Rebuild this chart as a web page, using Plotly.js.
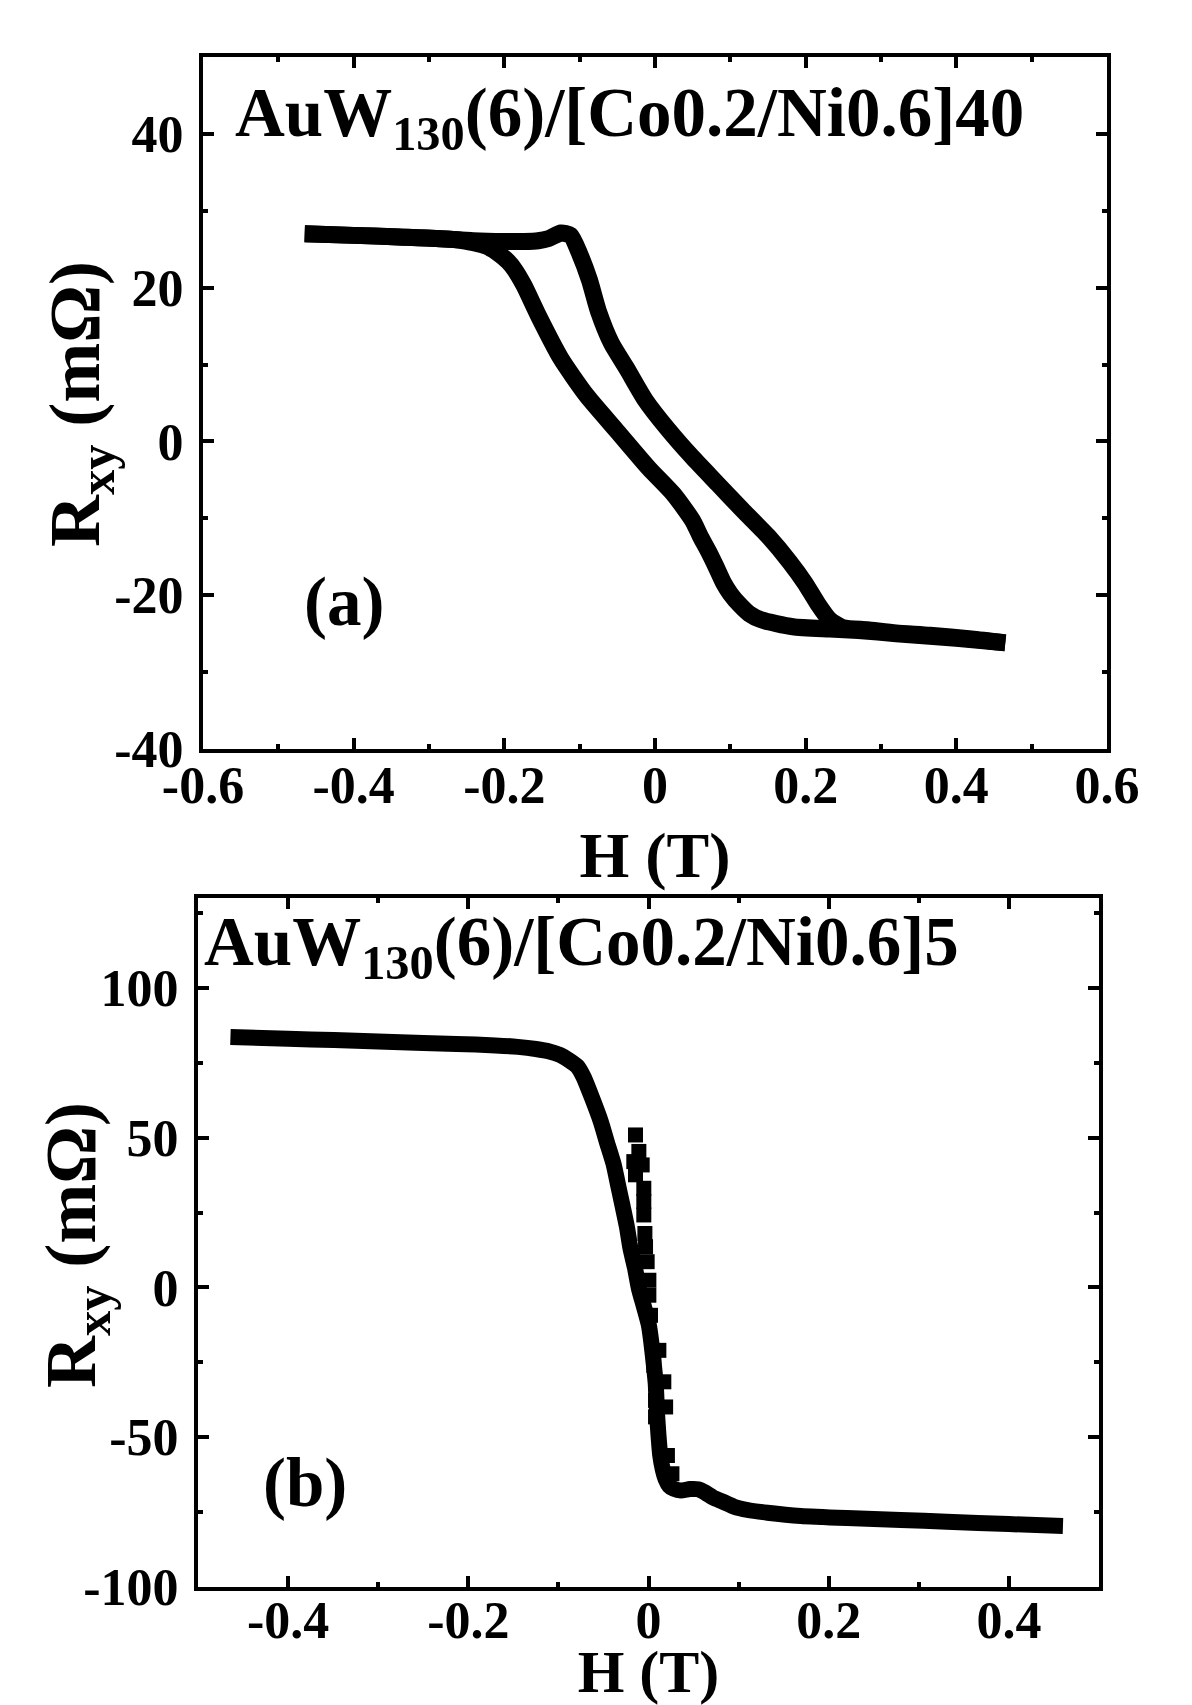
<!DOCTYPE html>
<html>
<head>
<meta charset="utf-8">
<script src="https://cdn.plot.ly/plotly-3.0.1.min.js"></script>
<style>
  html, body { margin: 0; padding: 0; background: #fff; }
  #chart { width: 1192px; height: 1705px; }
</style>
</head>
<body>
<div id="chart"></div>
<script>
// ---------- Panel (a): AuW130(6)/[Co0.2/Ni0.6]40 ----------
// branch swept from negative to positive field
const aUpH = [-0.465, -0.40, -0.34, -0.29, -0.241, -0.2, -0.174, -0.155, -0.141, -0.125, -0.112, -0.1, -0.087, -0.075, -0.058, -0.037, -0.013, 0.017, 0.05, 0.083, 0.116, 0.15, 0.179, 0.199, 0.216, 0.232, 0.249, 0.282, 0.32, 0.365, 0.42, 0.465];
const aUpR = [27.0, 26.8, 26.6, 26.4, 26.1, 26.0, 26.0, 26.1, 26.4, 27.1, 26.8, 24.4, 21.0, 16.9, 12.8, 9.4, 5.4, 1.6, -2.1, -5.5, -8.9, -12.3, -15.7, -18.4, -21.1, -23.2, -24.2, -24.5, -24.9, -25.2, -25.7, -26.2];
// branch swept from positive to negative field
const aDownH = [0.465, 0.40, 0.32, 0.27, 0.232, 0.183, 0.141, 0.125, 0.112, 0.1, 0.091, 0.081, 0.071, 0.06, 0.05, 0.025, -0.008, -0.05, -0.091, -0.125, -0.154, -0.174, -0.186, -0.195, -0.21, -0.224, -0.26, -0.34, -0.40, -0.465];
const aDownR = [-26.2, -25.6, -25.0, -24.6, -24.4, -24.1, -23.2, -22.4, -21.2, -19.8, -18.4, -16.3, -14.3, -12.3, -10.3, -6.9, -3.5, 1.3, 6.0, 10.8, 16.2, 20.3, 22.3, 23.4, 24.6, 25.4, 26.2, 26.6, 26.8, 27.0];

// ---------- Panel (b): AuW130(6)/[Co0.2/Ni0.6]5 ----------
const bMainH = [-0.464, -0.40, -0.349, -0.30, -0.25, -0.213, -0.17, -0.145, -0.125, -0.11, -0.098, -0.088, -0.079, -0.072, -0.063, -0.053, -0.046, -0.0385, -0.034, -0.029, -0.024, -0.02, -0.015, -0.0107, -0.005, 0.0004, 0.003, 0.006, 0.008, 0.0096, 0.011, 0.013, 0.016, 0.019, 0.023, 0.028, 0.036, 0.046, 0.055, 0.063, 0.072, 0.083, 0.095, 0.11, 0.132, 0.169, 0.22, 0.28, 0.331, 0.40, 0.46];
const bMainR = [83.6, 83.0, 82.6, 82.1, 81.6, 81.3, 80.8, 80.3, 79.6, 78.8, 77.6, 75.8, 73.8, 70.2, 63.5, 55.4, 48.3, 40.9, 34.5, 27.5, 20.3, 13.0, 6.5, -0.3, -6.5, -12.6, -18.0, -26.0, -32.0, -42.7, -49.0, -56.0, -61.0, -64.0, -66.2, -67.2, -67.8, -67.3, -67.4, -68.5, -70.2, -71.6, -73.2, -74.3, -75.2, -76.3, -77.0, -77.6, -78.2, -79.0, -79.6];
// scattered points of the other sweep near zero field
const bPtsH = [-0.0144, -0.0107, -0.007, -0.0163, -0.0144, -0.0052, -0.0052, -0.0052, -0.004, -0.0033, -0.0015, 0.0004, 0.0004, 0.0022, 0.0115, 0.0059, 0.017, 0.0078, 0.019, 0.0078, 0.0078, 0.021, 0.026];
const bPtsR = [50.9, 45.4, 40.9, 42.0, 37.6, 33.1, 28.7, 24.2, 18.0, 13.6, 8.6, 2.4, -2.6, -9.3, -21.0, -26.0, -31.5, -32.1, -39.9, -37.7, -43.2, -56.1, -62.2];

// ---------- tick labels ----------
const aXTickVals = [-0.6, -0.4, -0.2, 0, 0.2, 0.4, 0.6];
const aXTickText = ['-0.6', '-0.4', '-0.2', '0', '0.2', '0.4', '0.6'];
const aYTickVals = [-40, -20, 0, 20, 40];
const aYTickText = ['-40', '-20', '0', '20', '40'];
const bXTickVals = [-0.4, -0.2, 0, 0.2, 0.4];
const bXTickText = ['-0.4', '-0.2', '0', '0.2', '0.4'];
const bYTickVals = [-100, -50, 0, 50, 100];
const bYTickText = ['-100', '-50', '0', '50', '100'];

const titleA = 'AuW<sub>130</sub>(6)/[Co0.2/Ni0.6]40';
const titleB = 'AuW<sub>130</sub>(6)/[Co0.2/Ni0.6]5';
const xTitle = 'H (T)';
const yTitle = 'R<sub>xy</sub> (mΩ)';

const FONT = 'Liberation Serif';
const tickFont = {family: FONT, size: 52, color: '#000', weight: 'bold'};
const xTitleFont = {family: FONT, size: 64, color: '#000', weight: 'bold'};
const xTitleFontB = {family: FONT, size: 60, color: '#000', weight: 'bold'};
const yTitleFont = {family: FONT, size: 72, color: '#000', weight: 'bold'};
const noteFont = {family: FONT, size: 69, color: '#000', weight: 'bold'};

function axisBase(extra) {
  return Object.assign({
    showline: true, linecolor: '#000', linewidth: 4, mirror: 'allticks',
    ticks: 'inside', ticklen: 11, tickwidth: 4, tickcolor: '#000',
    showgrid: false, zeroline: false, tickmode: 'array',
    tickfont: tickFont, automargin: false
  }, extra);
}
function minorTicks(step) {
  return {tickmode: 'linear', tick0: 0, dtick: step, ticks: 'inside', ticklen: 5, tickwidth: 4, tickcolor: '#000'};
}

const traces = [
  {x: aUpH, y: aUpR, xaxis: 'x', yaxis: 'y', mode: 'lines', line: {color: '#000', width: 17, shape: 'spline', smoothing: 0.6}, hoverinfo: 'skip'},
  {x: aDownH, y: aDownR, xaxis: 'x', yaxis: 'y', mode: 'lines', line: {color: '#000', width: 17, shape: 'spline', smoothing: 0.6}, hoverinfo: 'skip'},
  {x: bMainH, y: bMainR, xaxis: 'x2', yaxis: 'y2', mode: 'lines', line: {color: '#000', width: 16, shape: 'spline', smoothing: 0.6}, hoverinfo: 'skip'},
  {x: bPtsH, y: bPtsR, xaxis: 'x2', yaxis: 'y2', mode: 'markers', marker: {symbol: 'square', color: '#000', size: 15, line: {width: 0}}, hoverinfo: 'skip'}
];

const layout = {
  width: 1192, height: 1705,
  margin: {l: 0, r: 0, t: 0, b: 0},
  paper_bgcolor: '#fff', plot_bgcolor: '#fff',
  showlegend: false,
  xaxis: axisBase({
    domain: [0.17030, 0.92869], anchor: 'y', range: [-0.6, 0.6],
    tickvals: aXTickVals, ticktext: aXTickText, ticklabelstandoff: -12,
    minor: minorTicks(0.1),
    title: {text: xTitle, font: xTitleFont, standoff: 20}
  }),
  yaxis: axisBase({
    domain: [0.56070, 0.96657], anchor: 'x', range: [-40, 50],
    tickvals: aYTickVals, ticktext: aYTickText, ticklabelstandoff: 5,
    minor: minorTicks(10)
  }),
  xaxis2: axisBase({
    domain: [0.16611, 0.92198], anchor: 'y2', range: [-0.5, 0.5],
    tickvals: bXTickVals, ticktext: bXTickText, ticklabelstandoff: -15,
    minor: minorTicks(0.1),
    title: {text: xTitle, font: xTitleFontB, standoff: 20}
  }),
  yaxis2: axisBase({
    domain: [0.06921, 0.47331], anchor: 'x2', range: [-100, 130],
    tickvals: bYTickVals, ticktext: bYTickText, ticklabelstandoff: 5,
    minor: minorTicks(25)
  }),
  annotations: [
    {text: yTitle, xref: 'paper', yref: 'paper', x: 0.0671, y: 0.763, xanchor: 'center', yanchor: 'middle', textangle: -90, showarrow: false, font: yTitleFont},
    {text: yTitle, xref: 'paper', yref: 'paper', x: 0.0638, y: 0.2698, xanchor: 'center', yanchor: 'middle', textangle: -90, showarrow: false, font: yTitleFont},
    {text: titleA, xref: 'x domain', yref: 'y domain', x: 0.033, y: 0.912, xanchor: 'left', yanchor: 'middle', showarrow: false, font: noteFont},
    {text: '(a)', xref: 'x domain', yref: 'y domain', x: 0.156, y: 0.212, xanchor: 'center', yanchor: 'middle', showarrow: false, font: noteFont},
    {text: titleB, xref: 'x2 domain', yref: 'y2 domain', x: 0.004, y: 0.929, xanchor: 'left', yanchor: 'middle', showarrow: false, font: noteFont},
    {text: '(b)', xref: 'x2 domain', yref: 'y2 domain', x: 0.119, y: 0.151, xanchor: 'center', yanchor: 'middle', showarrow: false, font: noteFont}
  ]
};

Plotly.newPlot('chart', traces, layout, {staticPlot: true, displayModeBar: false});
</script>
</body>
</html>
